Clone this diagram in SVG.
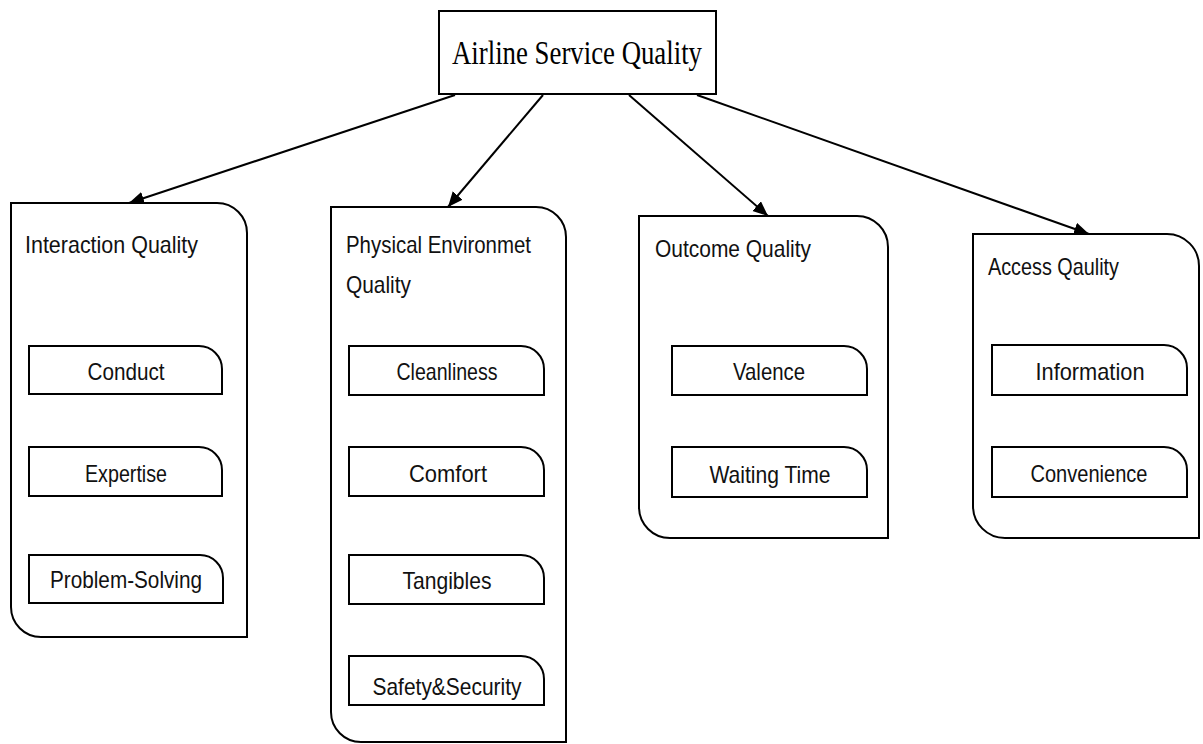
<svg xmlns="http://www.w3.org/2000/svg" width="1203" height="744" viewBox="0 0 1203 744">
<style>
  .shape { fill: #ffffff; stroke: #000000; stroke-width: 2; }
  .conn { stroke: #000000; stroke-width: 2; fill: none; }
  .title { font-family: "Liberation Serif", "Times New Roman", serif; font-size: 34px; fill: #000; }
  .head { font-family: "Liberation Sans", Arial, sans-serif; font-size: 24px; fill: #111; }
  .item { font-family: "Liberation Sans", Arial, sans-serif; font-size: 24px; fill: #111; text-anchor: middle; }
</style>
<defs>
  <marker id="arrow" markerUnits="userSpaceOnUse" markerWidth="16" markerHeight="14" refX="15" refY="6.5" orient="auto">
    <path d="M0,0 L15,6.5 L0,13 Z" fill="#000"/>
  </marker>
</defs>
<rect width="1203" height="744" fill="#ffffff"/>

<g id="connectors">
  <line class="conn" x1="455" y1="95" x2="129" y2="203" marker-end="url(#arrow)"/>
  <line class="conn" x1="543" y1="95" x2="448" y2="207" marker-end="url(#arrow)"/>
  <line class="conn" x1="629" y1="95" x2="768" y2="216" marker-end="url(#arrow)"/>
  <line class="conn" x1="697" y1="95" x2="1089" y2="234" marker-end="url(#arrow)"/>
</g>

<g id="root">
  <rect class="shape" x="439" y="11" width="277" height="83"/>
  <text class="title" x="452" y="64" textLength="250" lengthAdjust="spacingAndGlyphs">Airline Service Quality</text>
</g>

<g id="interaction">
  <path class="shape" d="M11,203 H217 A30,30 0 0 1 247,233 V637 H41 A30,30 0 0 1 11,607 Z"/>
  <text class="head" x="25" y="253" textLength="173" lengthAdjust="spacingAndGlyphs">Interaction Quality</text>
  <g id="conduct">
    <path class="shape" d="M29,346 H199 A23,23 0 0 1 222,369 V394 H29 Z"/>
    <text class="item" x="126" y="380" textLength="77" lengthAdjust="spacingAndGlyphs">Conduct</text>
  </g>
  <g id="expertise">
    <path class="shape" d="M29,447 H199 A23,23 0 0 1 222,470 V496 H29 Z"/>
    <text class="item" x="126" y="482" textLength="82" lengthAdjust="spacingAndGlyphs">Expertise</text>
  </g>
  <g id="problem-solving">
    <path class="shape" d="M29,555 H200 A23,23 0 0 1 223,578 V603 H29 Z"/>
    <text class="item" x="126" y="588" textLength="152" lengthAdjust="spacingAndGlyphs">Problem-Solving</text>
  </g>
</g>

<g id="physical">
  <path class="shape" d="M331,207 H536 A30,30 0 0 1 566,237 V742 H361 A30,30 0 0 1 331,712 Z"/>
  <text class="head" x="346" y="253" textLength="185" lengthAdjust="spacingAndGlyphs">Physical Environmet</text>
  <text class="head" x="346" y="293" textLength="65" lengthAdjust="spacingAndGlyphs">Quality</text>
  <g id="cleanliness">
    <path class="shape" d="M349,346 H521 A23,23 0 0 1 544,369 V395 H349 Z"/>
    <text class="item" x="447" y="380" textLength="101" lengthAdjust="spacingAndGlyphs">Cleanliness</text>
  </g>
  <g id="comfort">
    <path class="shape" d="M349,447 H521 A23,23 0 0 1 544,470 V496 H349 Z"/>
    <text class="item" x="448" y="482" textLength="78" lengthAdjust="spacingAndGlyphs">Comfort</text>
  </g>
  <g id="tangibles">
    <path class="shape" d="M349,555 H521 A23,23 0 0 1 544,578 V604 H349 Z"/>
    <text class="item" x="447" y="589" textLength="89" lengthAdjust="spacingAndGlyphs">Tangibles</text>
  </g>
  <g id="safety">
    <path class="shape" d="M349,656 H521 A23,23 0 0 1 544,679 V705 H349 Z"/>
    <text class="item" x="447" y="695" textLength="149" lengthAdjust="spacingAndGlyphs">Safety&amp;Security</text>
  </g>
</g>

<g id="outcome">
  <path class="shape" d="M639,216 H857 A31,31 0 0 1 888,247 V538 H670 A31,31 0 0 1 639,507 Z"/>
  <text class="head" x="655" y="257" textLength="156" lengthAdjust="spacingAndGlyphs">Outcome Quality</text>
  <g id="valence">
    <path class="shape" d="M672,346 H844 A23,23 0 0 1 867,369 V395 H672 Z"/>
    <text class="item" x="769" y="380" textLength="72" lengthAdjust="spacingAndGlyphs">Valence</text>
  </g>
  <g id="waiting">
    <path class="shape" d="M672,447 H844 A23,23 0 0 1 867,470 V497 H672 Z"/>
    <text class="item" x="770" y="483" textLength="121" lengthAdjust="spacingAndGlyphs">Waiting Time</text>
  </g>
</g>

<g id="access">
  <path class="shape" d="M973,234 H1167 A32,32 0 0 1 1199,266 V538 H1005 A32,32 0 0 1 973,506 Z"/>
  <text class="head" x="988" y="275" textLength="131" lengthAdjust="spacingAndGlyphs">Access Qaulity</text>
  <g id="information">
    <path class="shape" d="M992,345 H1164 A23,23 0 0 1 1187,368 V395 H992 Z"/>
    <text class="item" x="1090" y="380" textLength="109" lengthAdjust="spacingAndGlyphs">Information</text>
  </g>
  <g id="convenience">
    <path class="shape" d="M992,447 H1164 A23,23 0 0 1 1187,470 V497 H992 Z"/>
    <text class="item" x="1089" y="482" textLength="117" lengthAdjust="spacingAndGlyphs">Convenience</text>
  </g>
</g>
</svg>
